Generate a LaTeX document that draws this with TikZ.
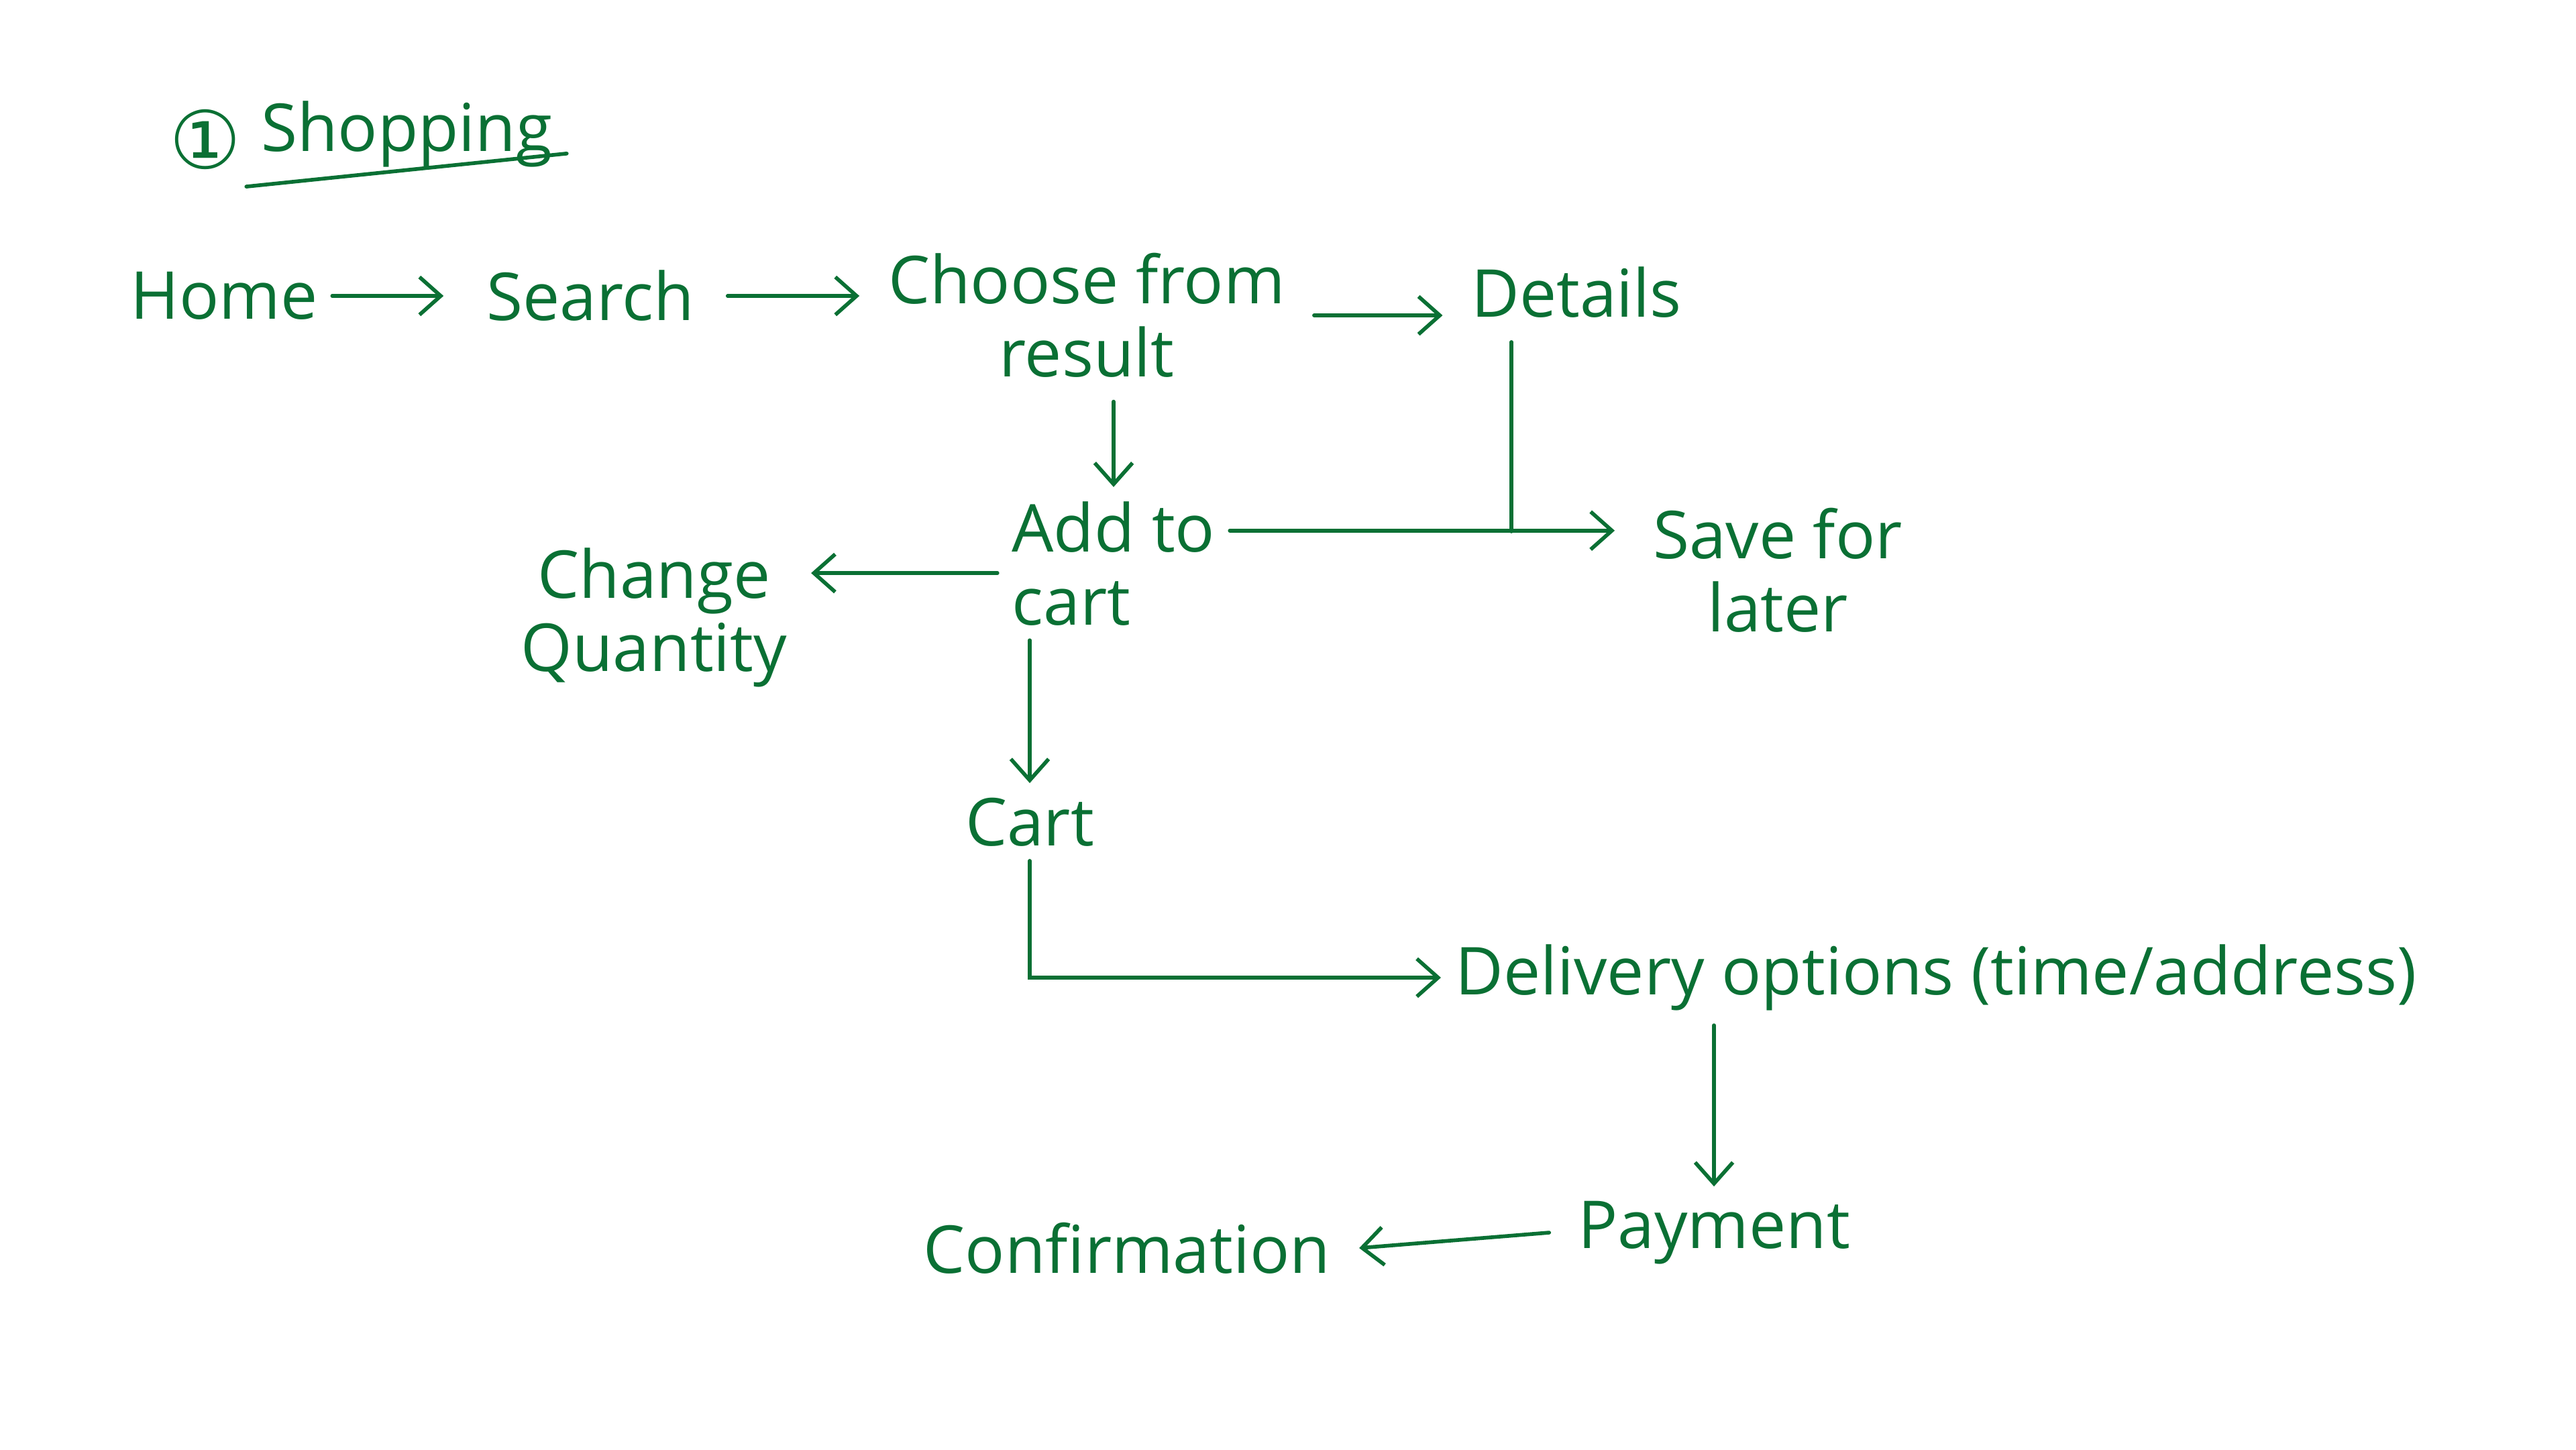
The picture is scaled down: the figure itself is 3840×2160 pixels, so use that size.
\documentclass[tikz,border=0pt]{standalone}
\usepackage{fontspec}
\setmainfont{Open Sans}
\newfontfamily\symfont{DejaVu Sans}
\usetikzlibrary{arrows.meta}
\definecolor{ink}{RGB}{10,112,52}
\begin{document}
\begin{tikzpicture}[x=0.01cm,y=-0.01cm,
  every node/.style={text=ink, font=\fontsize{28}{31}\selectfont, inner sep=6pt},
  lbl/.style={align=center},
  flow/.style={draw=ink, line width=1.6pt, line cap=round, -{Straight Barb[length=9pt,width=16pt,line width=1.6pt]}},
  plain/.style={draw=ink, line width=1.6pt, line cap=round}]
\useasboundingbox (0,0) rectangle (3840,2160);

% title
\node (num) at (306,208) {\symfont\fontsize{34}{36}\selectfont ①};
\node (title) at (606,200) {Shopping};
\draw[plain] ([yshift=-2pt]title.south west) -- ([yshift=12pt]title.south east);

% nodes
\node (home) at (334,441) {Home};
\node (search) at (880,441) {Search};
\node[lbl] (choose) at (1620,470) {Choose from\\result};
\node (details) at (2350,436) {Details};
\node[align=left] (addto) at (1660,840) {Add to\\cart};
\node[lbl] (save) at (2650,850) {Save for\\later};
\node[lbl] (change) at (975,920) {Change\\Quantity};
\node (cart) at (1535,1225) {Cart};
\node (delivery) at (2886,1457) {Delivery options (time/address)};
\node (payment) at (2555,1837) {Payment};
\node (confirm) at (1680,1860) {Confirmation};
\coordinate (j) at (2253,792);

% connectors
\draw[flow] (home.east) -- ([xshift=-12pt]search.west);
\draw[flow] ([xshift=8pt]search.east) -- ([xshift=-6pt]search.east -| choose.west);
\draw[flow] ([xshift=6pt]choose.east) -- ([xshift=-6pt]choose.east -| details.west);
\draw[flow] ([yshift=-4pt]choose.south -| addto.north) -- (addto.north);
\draw[flow] ([yshift=14pt]addto.east) -- ([yshift=14pt, xshift=-10pt]addto.east -| save.west);
\draw[plain] ([yshift=-4pt]details.south -| j) -- (j);
\draw[flow] ([yshift=-4pt]addto.west) -- ([yshift=-4pt, xshift=4pt]addto.west -| change.east);
\draw[flow] (addto.south -| cart.north) -- (cart.north);
\draw[flow] (cart.south) |- (delivery.west);
\draw[flow] (delivery.south -| payment.north) -- (payment.north);
\draw[flow] ([xshift=-6pt]payment.west) -- ([xshift=6pt]confirm.east);
\end{tikzpicture}
\end{document}
